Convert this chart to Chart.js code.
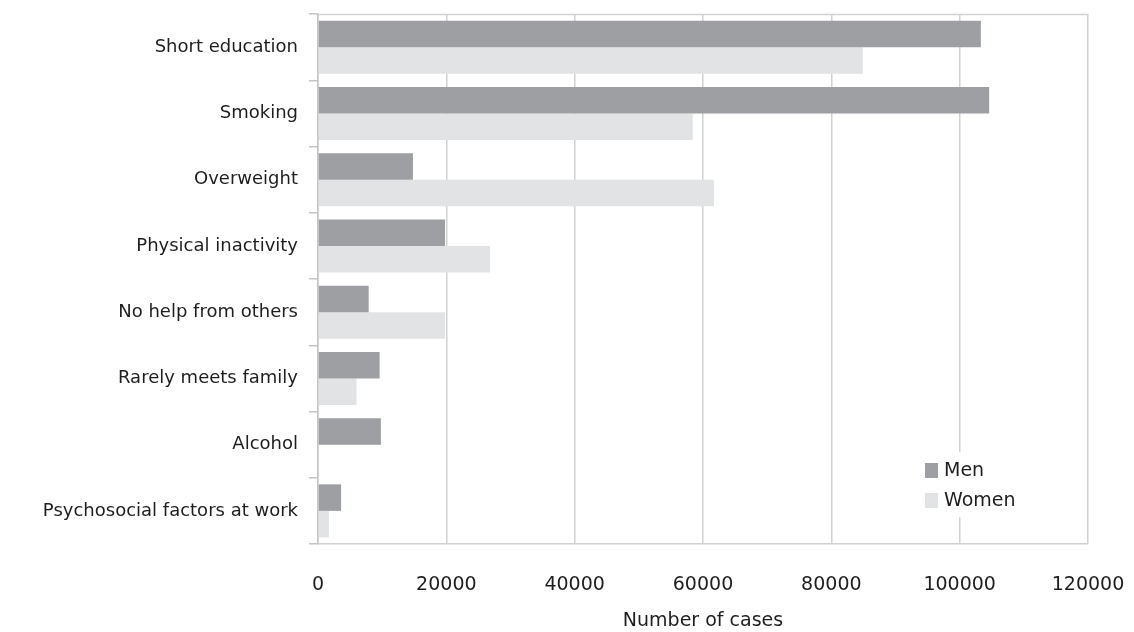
<!DOCTYPE html>
<html>
<head>
<meta charset="utf-8">
<script src="https://cdn.jsdelivr.net/npm/chart.js@4"></script>
<style>
body{margin:0;background:#fff;}
#wrap{width:1134px;height:632px;position:relative;}
</style>
</head>
<body>
<div id="wrap"><canvas id="chart"></canvas></div>
<script>
const categories=["Short education","Smoking","Overweight","Physical inactivity","No help from others","Rarely meets family","Alcohol","Psychosocial factors at work"];
const men=[103300,104600,14800,19800,7900,9600,9800,3600];
const women=[84900,58400,61700,26800,19800,6000,0,1700];
const xTicks=[0,20000,40000,60000,80000,100000,120000];

const gridColor="#d2d2d2";
const textColor="#1e1e1e";

// legend box drawn inside plot, bottom right
const insideLegend={
id:"insideLegend",
afterDatasetsDraw(chart){
let ctx=chart.ctx;
let a=chart.chartArea;
let x=a.right-163;
let y=a.bottom-73;
ctx.save();
ctx.fillStyle="#fff";
ctx.fillRect(x-7,y-19,112,65);
ctx.font="19px 'DejaVu Sans'";
ctx.textBaseline="middle";
chart.data.datasets.forEach((ds,i)=>{
let cy=y+i*30;
ctx.fillStyle=ds.backgroundColor;
ctx.fillRect(x,cy-8,13,15);
ctx.fillStyle=textColor;
ctx.fillText(ds.label,x+19,cy);
});
ctx.restore();
}
};

// top border of plot area
const topBorder={
id:"topBorder",
beforeDatasetsDraw(chart){
let ctx=chart.ctx;
let a=chart.chartArea;
ctx.save();
ctx.strokeStyle=gridColor;
ctx.lineWidth=1.5;
ctx.beginPath();
ctx.moveTo(a.left,a.top+0.5);
ctx.lineTo(a.right,a.top+0.5);
ctx.stroke();
ctx.restore();
}
};

new Chart(document.getElementById("chart"),{
type:"bar",
data:{
labels:categories,
datasets:[
{label:"Men",data:men,backgroundColor:"#9e9fa3"},
{label:"Women",data:women,backgroundColor:"#e2e3e5"}
]
},
options:{
indexAxis:"y",
responsive:true,
maintainAspectRatio:false,
animation:false,
categoryPercentage:0.8,
barPercentage:1,
layout:{padding:{top:14,right:46,left:0,bottom:0}},
plugins:{
legend:{display:false},
tooltip:{enabled:false}
},
scales:{
x:{
min:0,
max:120000,
afterBuildTicks(s){s.ticks=xTicks.map(v=>({value:v}));},
afterFit(s){s.height=88;s.paddingLeft=0;s.paddingRight=0;},
grid:{color:gridColor,lineWidth:1.5,drawTicks:false},
border:{color:gridColor,width:1.5},
ticks:{padding:30,color:textColor,font:{family:"DejaVu Sans",size:19},maxRotation:0,callback:v=>String(v)},
title:{display:true,text:"Number of cases",color:textColor,font:{family:"DejaVu Sans",size:19},padding:{top:4,bottom:0}}
},
y:{
afterFit(s){s.width=318;s.paddingTop=0;s.paddingBottom=0;},
grid:{offset:true,drawOnChartArea:false,tickLength:9,color:"#c4c4c4",lineWidth:1.5},
border:{color:"#c4c4c4",width:1.5},
ticks:{padding:11,color:textColor,font:{family:"DejaVu Sans",size:18}}
}
}
},
plugins:[insideLegend,topBorder]
});
</script>
</body>
</html>
